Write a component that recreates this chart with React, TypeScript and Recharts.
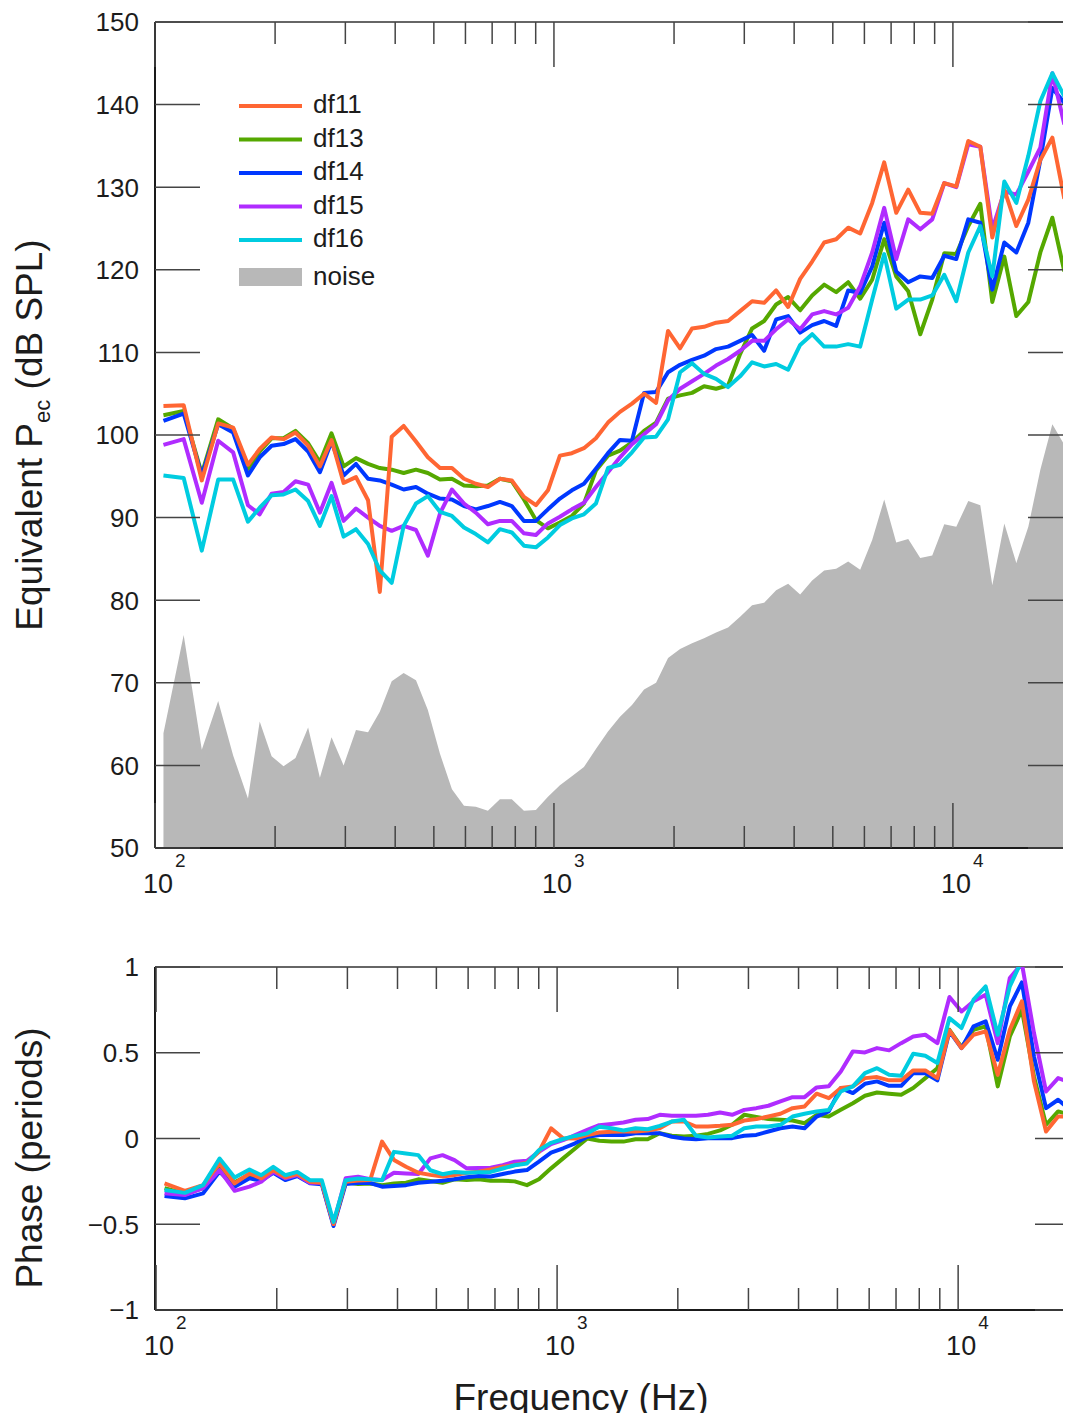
import React from "react";
import { ComposedChart, Line, Area, XAxis, YAxis, ReferenceLine, Legend } from "recharts";

// analysis band centres (Hz): linear steps at the bottom, 1/10 octave above
const FREQ_HZ = [
  105, 118, 131, 144, 157, 171, 183, 196, 210, 225,
  242, 259, 277, 297, 319, 342, 366, 392, 420, 451,
  483, 518, 555, 595, 637, 683, 732, 784, 841, 901,
  966, 1035, 1109, 1189, 1274, 1366, 1464, 1569, 1682, 1803,
  1932, 2071, 2219, 2378, 2549, 2732, 2928, 3138, 3364, 3605,
  3864, 4141, 4438, 4757, 5098, 5464, 5856, 6276, 6727, 7210,
  7727, 8282, 8876, 9514, 10196, 10928, 11713, 12553, 13454, 14420,
  15455, 16564, 17753, 19027,
];

// equivalent ear-canal pressure, dB SPL
const LEVEL_DF11 = [
  103.5, 103.6, 94.5, 101.4, 100.9, 96.4, 98.3, 99.7, 99.5, 100.3,
  98.7, 96.2, 99.4, 94.2, 94.9, 92.1, 81.0, 99.8, 101.1, 99.2,
  97.3, 96.0, 96.0, 94.7, 94.1, 93.7, 94.7, 94.5, 92.5, 91.5,
  93.3, 97.5, 97.8, 98.4, 99.6, 101.5, 102.8, 103.8, 105.0, 103.9,
  112.6, 110.5, 112.9, 113.1, 113.6, 113.8, 115.0, 116.2, 116.0, 117.5,
  115.5, 118.9, 121.0, 123.3, 123.7, 125.1, 124.4, 128.1, 133.0, 126.9,
  129.7, 126.9, 126.8, 130.5, 130.1, 135.6, 134.9, 123.9, 129.7, 125.3,
  128.5, 133.3, 136.0, 128.6,
];
const LEVEL_DF13 = [
  102.4, 102.9, 95.3, 101.9, 100.8, 95.9, 98.0, 99.6, 99.6, 100.5,
  99.0, 96.7, 100.2, 96.2, 97.2, 96.5, 96.0, 95.8, 95.4, 95.8,
  95.4, 94.6, 94.7, 93.9, 93.8, 93.9, 94.7, 94.4, 92.2, 89.7,
  88.7, 89.4, 90.2, 91.7, 95.7, 97.5, 98.1, 99.1, 100.5, 101.5,
  104.4, 104.8, 105.1, 105.9, 105.6, 106.0, 109.8, 112.9, 113.8, 115.8,
  116.7, 115.1, 116.9, 118.2, 117.3, 118.5, 116.5, 118.8, 123.7, 119.2,
  117.4, 112.2, 116.4, 122.0, 121.9, 125.3, 128.0, 116.1, 121.6, 114.4,
  116.1, 122.1, 126.3, 119.8,
];
const LEVEL_DF14 = [
  101.7, 102.6, 95.1, 101.3, 100.3, 95.1, 97.3, 98.7, 98.9, 99.5,
  98.0, 95.5, 99.2, 95.1, 96.5, 94.7, 94.5, 94.0, 93.4, 93.7,
  92.9, 92.3, 92.2, 91.4, 91.0, 91.4, 91.9, 91.4, 89.6, 89.6,
  91.0, 92.3, 93.3, 94.1, 95.9, 97.8, 99.4, 99.3, 105.1, 105.2,
  107.6, 108.5, 109.1, 109.6, 110.4, 110.7, 111.4, 112.1, 110.2, 114.0,
  114.4, 112.4, 113.3, 113.8, 113.2, 117.5, 117.2, 120.4, 125.7, 119.8,
  118.5, 119.2, 119.0, 121.7, 121.3, 126.1, 125.7, 117.6, 123.3, 122.1,
  125.7, 133.3, 142.0, 140.2,
];
const LEVEL_DF15 = [
  98.8, 99.5, 91.8, 99.3, 97.9, 91.5, 90.4, 92.9, 93.1, 94.4,
  94.0, 90.6, 94.2, 89.6, 91.1, 90.0, 89.0, 88.4, 89.0, 88.5,
  85.4, 90.5, 93.4, 91.7, 90.6, 89.2, 89.6, 89.6, 88.1, 87.9,
  89.3, 90.1, 91.0, 91.8, 93.7, 95.5, 97.3, 98.9, 100.1, 101.3,
  104.2, 105.6, 106.5, 107.4, 108.4, 109.2, 110.2, 111.4, 111.4, 112.8,
  114.0, 112.8, 114.6, 115.0, 114.6, 115.4, 118.0, 122.1, 127.5, 121.3,
  126.1, 124.9, 126.1, 130.5, 130.0, 135.2, 134.9, 124.9, 129.5, 129.1,
  131.9, 134.8, 143.8, 137.6,
];
const LEVEL_DF16 = [
  95.1, 94.8, 86.0, 94.6, 94.6, 89.5, 91.2, 92.7, 92.8, 93.4,
  92.0, 89.0, 92.6, 87.7, 88.6, 86.8, 83.6, 82.1, 89.0, 91.7,
  92.6, 90.7, 90.2, 88.8, 88.0, 87.0, 88.6, 88.2, 86.6, 86.4,
  87.6, 89.1, 89.9, 90.4, 91.7, 96.0, 96.4, 97.9, 99.7, 99.8,
  101.9, 107.6, 108.7, 107.4, 106.8, 105.8, 107.1, 108.8, 108.3, 108.6,
  107.9, 110.9, 112.2, 110.7, 110.7, 111.0, 110.7, 116.4, 121.9, 115.3,
  116.4, 116.4, 116.9, 119.4, 116.2, 122.1, 125.3, 119.2, 130.7, 128.1,
  133.8, 140.4, 143.8, 141.0,
];
const LEVEL_NOISE = [
  63.9, 75.8, 61.9, 67.8, 61.2, 56.0, 65.3, 61.1, 59.9, 60.9,
  64.6, 58.5, 63.4, 60.0, 64.3, 64.0, 66.5, 70.2, 71.2, 70.3,
  66.7, 61.4, 57.1, 55.1, 55.0, 54.5, 55.9, 55.9, 54.5, 54.6,
  56.2, 57.6, 58.7, 59.8, 62.0, 64.1, 65.9, 67.3, 69.2, 70.0,
  73.0, 74.1, 74.8, 75.4, 76.1, 76.7, 78.0, 79.4, 79.7, 81.2,
  82.0, 80.7, 82.4, 83.6, 83.8, 84.7, 83.7, 87.3, 92.2, 87.0,
  87.4, 85.1, 85.4, 89.2, 88.9, 92.0, 91.5, 81.8, 89.3, 84.5,
  88.9, 95.8, 101.3, 98.8,
];

// phase, in periods
const PHASE_DF11 = [
  -0.262, -0.305, -0.272, -0.145, -0.262, -0.204, -0.232, -0.184, -0.226, -0.207,
  -0.252, -0.258, -0.499, -0.252, -0.245, -0.242, -0.018, -0.125, -0.165, -0.2,
  -0.212, -0.222, -0.213, -0.2, -0.194, -0.18, -0.165, -0.155, -0.141, -0.077,
  0.059, 0.001, 0.0, 0.02, 0.035, 0.04, 0.041, 0.041, 0.047, 0.06,
  0.099, 0.099, 0.07, 0.07, 0.074, 0.08, 0.105, 0.113, 0.128, 0.144,
  0.177, 0.187, 0.261, 0.235, 0.294, 0.304, 0.352, 0.358, 0.339, 0.339,
  0.397, 0.397, 0.352, 0.63, 0.527, 0.605, 0.625, 0.372, 0.634, 0.8,
  0.333, 0.041, 0.128, 0.128,
];
const PHASE_DF13 = [
  -0.29, -0.32, -0.29, -0.16, -0.255, -0.21, -0.232, -0.19, -0.232, -0.21,
  -0.255, -0.26, -0.5, -0.255, -0.265, -0.262, -0.272, -0.262, -0.258, -0.238,
  -0.248, -0.258, -0.238, -0.242, -0.238, -0.246, -0.246, -0.25, -0.272, -0.238,
  -0.174, -0.116, -0.058, 0.0, -0.013, -0.018, -0.018, -0.004, -0.004, 0.031,
  0.016, 0.012, 0.016, 0.027, 0.047, 0.08, 0.138, 0.125, 0.113, 0.109,
  0.105, 0.089, 0.138, 0.128, 0.167, 0.206, 0.249, 0.268, 0.261, 0.255,
  0.294, 0.352, 0.41, 0.634, 0.533, 0.634, 0.654, 0.304, 0.595, 0.751,
  0.362, 0.08, 0.158, 0.138,
];
const PHASE_DF14 = [
  -0.335, -0.349, -0.32, -0.193, -0.281, -0.232, -0.246, -0.2, -0.242, -0.219,
  -0.261, -0.267, -0.51, -0.265, -0.26, -0.26, -0.281, -0.277, -0.272, -0.258,
  -0.252, -0.246, -0.238, -0.226, -0.219, -0.222, -0.207, -0.193, -0.184, -0.135,
  -0.083, -0.057, -0.028, 0.01, 0.02, 0.021, 0.021, 0.031, 0.031, 0.03,
  0.01, 0.0, -0.004, 0.002, 0.002, 0.002, 0.016, 0.021, 0.041, 0.06,
  0.07, 0.06, 0.128, 0.158, 0.294, 0.265, 0.319, 0.333, 0.307, 0.307,
  0.381, 0.381, 0.339, 0.625, 0.527, 0.654, 0.683, 0.459, 0.77, 0.91,
  0.479, 0.177, 0.226, 0.167,
];
const PHASE_DF15 = [
  -0.32, -0.33, -0.29, -0.184, -0.305, -0.281, -0.252, -0.194, -0.232, -0.213,
  -0.258, -0.258, -0.499, -0.232, -0.223, -0.238, -0.242, -0.2, -0.204, -0.207,
  -0.116, -0.097, -0.126, -0.174, -0.172, -0.17, -0.155, -0.135, -0.13, -0.077,
  -0.032, -0.01, 0.02, 0.05, 0.078, 0.085, 0.093, 0.109, 0.113, 0.138,
  0.132, 0.132, 0.132, 0.138, 0.152, 0.138, 0.167, 0.177, 0.191, 0.216,
  0.241, 0.241, 0.298, 0.304, 0.391, 0.508, 0.502, 0.527, 0.514, 0.556,
  0.595, 0.605, 0.556, 0.825, 0.741, 0.8, 0.838, 0.556, 0.936, 1.02,
  0.615, 0.274, 0.352, 0.327,
];
const PHASE_DF16 = [
  -0.3, -0.317, -0.272, -0.117, -0.228, -0.181, -0.214, -0.165, -0.214, -0.195,
  -0.243, -0.243, -0.486, -0.243, -0.233, -0.238, -0.243, -0.078, -0.088, -0.097,
  -0.185, -0.208, -0.195, -0.2, -0.197, -0.195, -0.175, -0.156, -0.146, -0.068,
  -0.025, -0.003, 0.015, 0.03, 0.068, 0.06, 0.047, 0.06, 0.054, 0.074,
  0.099, 0.109, 0.016, 0.006, 0.012, 0.016, 0.06, 0.07, 0.07, 0.08,
  0.128, 0.144, 0.158, 0.167, 0.274, 0.304, 0.381, 0.41, 0.372, 0.366,
  0.494, 0.482, 0.44, 0.702, 0.644, 0.81, 0.887, 0.605, 0.887, 1.04,
  1.2, 1.3, 1.35, 1.35,
];

const FREQ_TICKS = [
  100, 200, 300, 400, 500, 600, 700, 800, 900,
  1000, 2000, 3000, 4000, 5000, 6000, 7000, 8000, 9000,
  10000, 20000,
];
const LEVEL_TICKS = [50, 60, 70, 80, 90, 100, 110, 120, 130, 140, 150];
const PHASE_TICKS = [-1, -0.5, 0, 0.5, 1];

const SERIES = [
  { key: "df11", color: "#ff6633" },
  { key: "df13", color: "#55a800" },
  { key: "df14", color: "#0038ff" },
  { key: "df15", color: "#b02cff" },
  { key: "df16", color: "#00cce0" },
];
// stacking order of the traces (last one ends up on top)
const DRAW_ORDER = ["df13", "df14", "df15", "df11", "df16"];
const NOISE_FILL = "#b8b8b8";

const FONT = '"Liberation Sans", Arial, Helvetica, sans-serif';
const INK = "#1c1c1c";
const TICK_STROKE = "#444";

const levelRows = FREQ_HZ.map((f, i) => ({
  f,
  df11: LEVEL_DF11[i],
  df13: LEVEL_DF13[i],
  df14: LEVEL_DF14[i],
  df15: LEVEL_DF15[i],
  df16: LEVEL_DF16[i],
  noise: LEVEL_NOISE[i],
}));

const phaseRows = FREQ_HZ.map((f, i) => ({
  f,
  df11: PHASE_DF11[i],
  df13: PHASE_DF13[i],
  df14: PHASE_DF14[i],
  df15: PHASE_DF15[i],
  df16: PHASE_DF16[i],
}));

const colorOf = (key: string) => SERIES.find((s) => s.key === key)!.color;

// frequency ticks point inward from both the bottom and the top edge
const freqTick = (plotTop: number) => (props: any) => {
  const { x, y, payload } = props;
  const exp = Math.log10(payload.value);
  const decade = Math.abs(exp - Math.round(exp)) < 1e-6;
  const len = decade ? 45 : 22;
  return (
    <g>
      <line x1={x} y1={y} x2={x} y2={y - len} stroke={TICK_STROKE} strokeWidth={1.5} />
      <line x1={x} y1={plotTop} x2={x} y2={plotTop + len} stroke={TICK_STROKE} strokeWidth={1.5} />
      {decade && (
        <g fontFamily={FONT} fill={INK}>
          <text x={x + 3} y={y + 45} fontSize={27} textAnchor="middle">
            10
          </text>
          <text x={x + 20} y={y + 19} fontSize={19}>
            {Math.round(exp)}
          </text>
        </g>
      )}
    </g>
  );
};

// value ticks point inward from the left and the right edge
const valueTick = (plotRight: number, format: (v: number) => string) => (props: any) => {
  const { x, y, payload } = props;
  return (
    <g>
      <line x1={x} y1={y} x2={x + 45} y2={y} stroke={TICK_STROKE} strokeWidth={1.5} />
      <line x1={plotRight} y1={y} x2={plotRight - 45} y2={y} stroke={TICK_STROKE} strokeWidth={1.5} />
      <text x={x - 16} y={y} dy="0.36em" textAnchor="end" fontSize={26} fontFamily={FONT} fill={INK}>
        {format(payload.value)}
      </text>
    </g>
  );
};

const formatPhase = (v: number) => (v < 0 ? `\u2212${Math.abs(v)}` : String(v));

const LevelTitle = () => (
  <text
    transform="translate(42, 435) rotate(-90)"
    textAnchor="middle"
    fontSize={37}
    fontFamily={FONT}
    fill={INK}
  >
    Equivalent P
    <tspan fontSize={22} dy={8}>
      ec
    </tspan>
    <tspan dy={-8}> (dB SPL)</tspan>
  </text>
);

const PhaseTitle = () => (
  <text
    transform="translate(42, 218) rotate(-90)"
    textAnchor="middle"
    fontSize={37}
    fontFamily={FONT}
    fill={INK}
  >
    Phase (periods)
  </text>
);

const FreqTitle = () => (
  <text x={581} y={470} textAnchor="middle" fontSize={37} fontFamily={FONT} fill={INK}>
    Frequency (Hz)
  </text>
);

const LegendBox = () => {
  const rows = [21, 54.5, 88, 121.5, 155];
  return (
    <svg width={170} height={210} style={{ display: "block" }}>
      {SERIES.map((s, i) => (
        <g key={s.key}>
          <line x1={4} x2={67} y1={rows[i]} y2={rows[i]} stroke={s.color} strokeWidth={4} />
          <text x={78} y={rows[i] + 7} fontSize={26} fontFamily={FONT} fill={INK}>
            {s.key}
          </text>
        </g>
      ))}
      <rect x={4} y={183} width={63} height={18} fill={NOISE_FILL} />
      <text x={78} y={200} fontSize={26} fontFamily={FONT} fill={INK}>
        noise
      </text>
    </svg>
  );
};

const LevelPanel = () => (
  <ComposedChart
    width={1080}
    height={920}
    data={levelRows}
    margin={{ top: 22, right: 7, bottom: 71, left: 154 }}
  >
    <XAxis
      dataKey="f"
      type="number"
      scale="log"
      domain={[100, 20000]}
      allowDataOverflow
      ticks={FREQ_TICKS}
      interval={0}
      height={1}
      tickSize={0}
      tickMargin={0}
      tickLine={false}
      axisLine={{ stroke: "#1a1a1a", strokeWidth: 2 }}
      tick={freqTick(22)}
    />
    <YAxis
      type="number"
      domain={[50, 150]}
      ticks={LEVEL_TICKS}
      interval={0}
      width={1}
      tickSize={0}
      tickMargin={0}
      tickLine={false}
      axisLine={{ stroke: "#1a1a1a", strokeWidth: 2 }}
      tick={valueTick(1073, String)}
      label={{ content: LevelTitle }}
    />
    <ReferenceLine y={150} stroke="#333" strokeWidth={1.5} />
    <Area
      dataKey="noise"
      name="noise"
      type="linear"
      baseValue="dataMin"
      stroke="none"
      fill={NOISE_FILL}
      fillOpacity={1}
      isAnimationActive={false}
    />
    {DRAW_ORDER.map((key) => (
      <Line
        key={key}
        dataKey={key}
        name={key}
        type="linear"
        stroke={colorOf(key)}
        strokeWidth={4}
        strokeLinejoin="round"
        dot={false}
        activeDot={false}
        isAnimationActive={false}
      />
    ))}
    <Legend
      layout="vertical"
      align="center"
      verticalAlign="middle"
      content={LegendBox}
      wrapperStyle={{ left: 235, top: 85, width: 170, height: 210 }}
    />
  </ComposedChart>
);

const PhasePanel = () => (
  <ComposedChart
    width={1090}
    height={481}
    data={phaseRows}
    margin={{ top: 27, right: 10, bottom: 110, left: 154 }}
  >
    <XAxis
      dataKey="f"
      type="number"
      scale="log"
      domain={[99.4, 20130]}
      allowDataOverflow
      ticks={FREQ_TICKS}
      interval={0}
      height={1}
      tickSize={0}
      tickMargin={0}
      tickLine={false}
      axisLine={{ stroke: "#1a1a1a", strokeWidth: 2 }}
      tick={freqTick(27)}
      label={{ content: FreqTitle }}
    />
    <YAxis
      type="number"
      domain={[-1, 1]}
      allowDataOverflow
      ticks={PHASE_TICKS}
      interval={0}
      width={1}
      tickSize={0}
      tickMargin={0}
      tickLine={false}
      axisLine={{ stroke: "#1a1a1a", strokeWidth: 2 }}
      tick={valueTick(1080, formatPhase)}
      label={{ content: PhaseTitle }}
    />
    <ReferenceLine y={1} stroke="#333" strokeWidth={1.5} />
    {DRAW_ORDER.map((key) => (
      <Line
        key={key}
        dataKey={key}
        name={key}
        type="linear"
        stroke={colorOf(key)}
        strokeWidth={4}
        strokeLinejoin="round"
        dot={false}
        activeDot={false}
        isAnimationActive={false}
      />
    ))}
  </ComposedChart>
);

export default function App() {
  return (
    <div
      style={{
        position: "relative",
        width: 1071,
        height: 1421,
        margin: -8,
        overflow: "hidden",
        background: "#fff",
      }}
    >
      <div style={{ position: "absolute", left: 0, top: 0 }}>
        <LevelPanel />
      </div>
      <div style={{ position: "absolute", left: 0, top: 940 }}>
        <PhasePanel />
      </div>
    </div>
  );
}
